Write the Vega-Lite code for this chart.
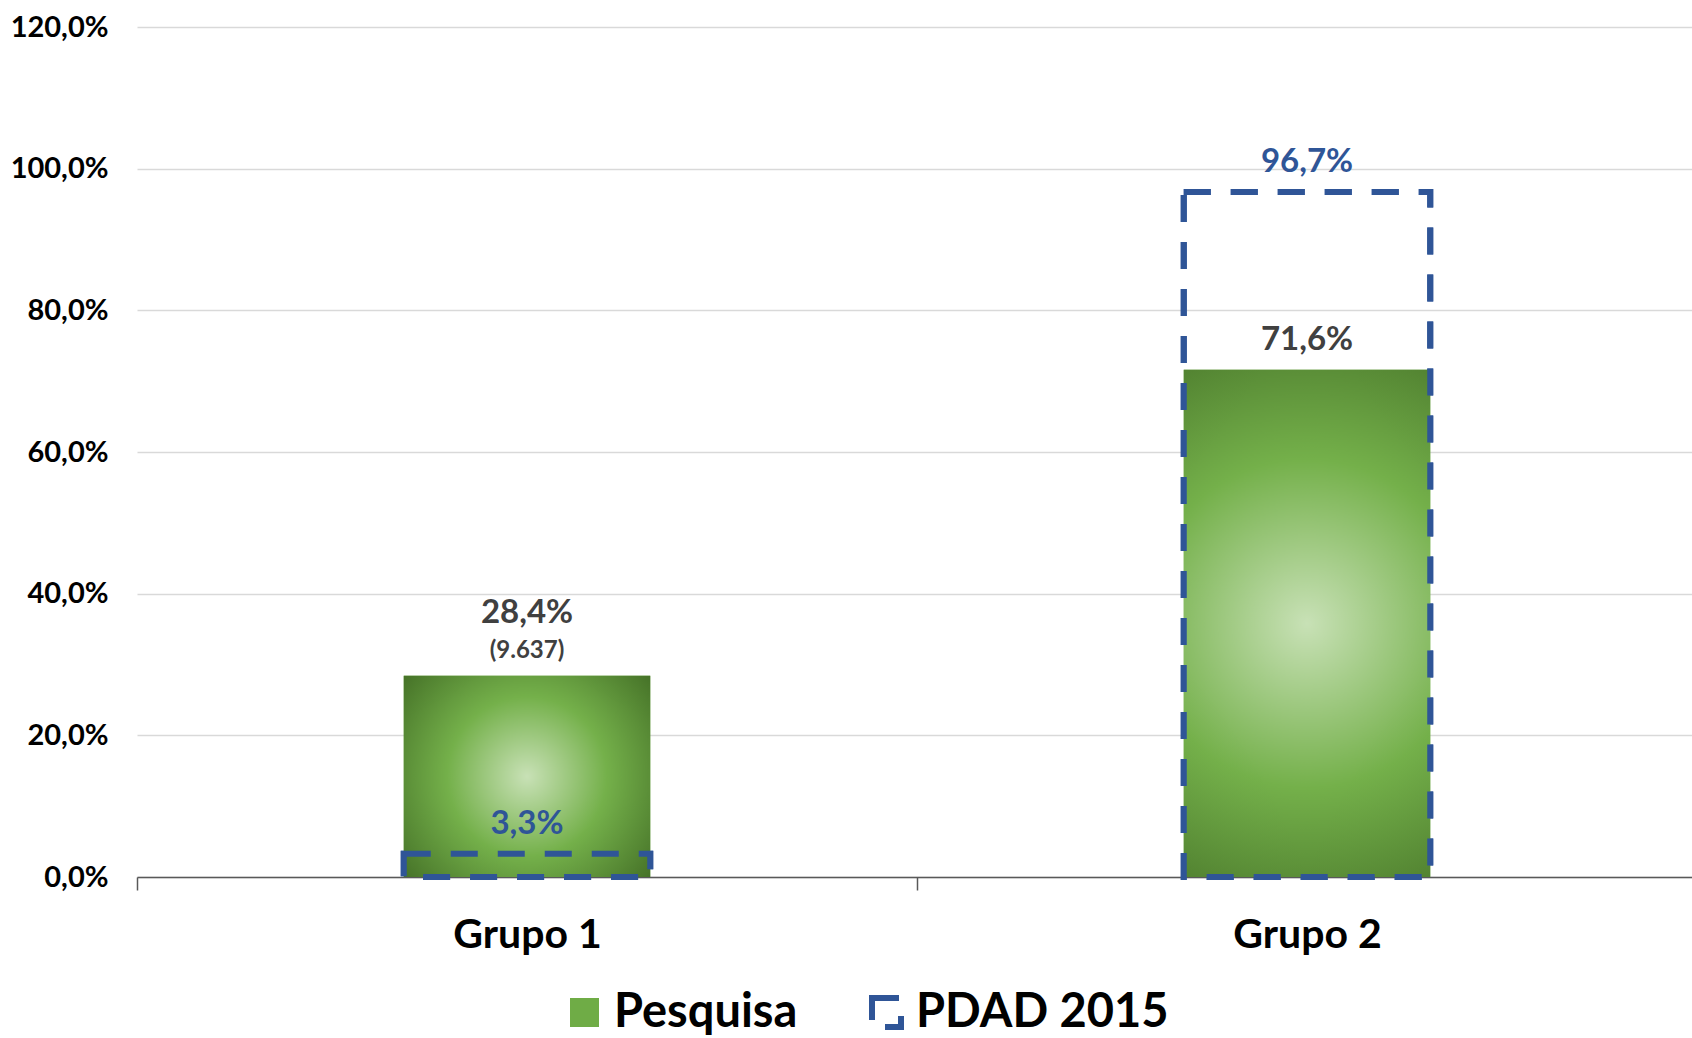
{
  "$schema": "https://vega.github.io/schema/vega-lite/v6.json",
  "width": 1560,
  "height": 850,
  "autosize": {"type": "none"},
  "padding": {"left": 137, "top": 27, "right": 0, "bottom": 161},
  "background": "white",
  "config": {
    "view": {"stroke": null},
    "font": "Lato",
    "text": {"font": "Lato", "fontWeight": "bold"},
    "legend": {
      "title": null,
      "orient": "none",
      "legendX": 424,
      "legendY": 962,
      "direction": "horizontal",
      "padding": 0,
      "symbolType": "square",
      "symbolSize": 841,
      "symbolStrokeWidth": 6,
      "labelFont": "Lato",
      "labelFontWeight": "bold",
      "labelFontSize": 47,
      "labelColor": "#000000",
      "labelOffset": 6,
      "columnPadding": 62,
      "labelLimit": 400
    }
  },
  "data": {
    "values": [
      {"grupo": "Grupo 1", "serie": "Pesquisa", "valor": 28.4, "rotulo": "28,4%", "n": "(9.637)"},
      {"grupo": "Grupo 2", "serie": "Pesquisa", "valor": 71.6, "rotulo": "71,6%", "n": ""},
      {"grupo": "Grupo 1", "serie": "PDAD 2015", "valor": 3.3, "rotulo": "3,3%", "n": ""},
      {"grupo": "Grupo 2", "serie": "PDAD 2015", "valor": 96.7, "rotulo": "96,7%", "n": ""}
    ]
  },
  "encoding": {
    "x": {
      "field": "grupo",
      "type": "nominal",
      "sort": ["Grupo 1", "Grupo 2"],
      "scale": {"paddingInner": 0.684, "paddingOuter": 0.342},
      "axis": {
        "title": null,
        "labelAngle": 0,
        "labelFont": "Lato",
        "labelFontWeight": "bold",
        "labelFontSize": 41,
        "labelColor": "#000000",
        "labelPadding": 25,
        "domainColor": "#595959",
        "domainWidth": 1.5,
        "tickColor": "#595959",
        "tickWidth": 1.5,
        "tickSize": 13,
        "bandPosition": 0.5,
        "tickOffset": -390,
        "labelOffset": 390,
        "grid": false
      }
    },
    "y": {
      "field": "valor",
      "type": "quantitative",
      "stack": null,
      "scale": {"domain": [0, 120], "nice": false},
      "axis": {
        "title": null,
        "values": [0, 20, 40, 60, 80, 100, 120],
        "labelExpr": "replace(format(datum.value, '.1f'), '.', ',') + '%'",
        "labelFont": "Lato",
        "labelFontWeight": "bold",
        "labelFontSize": 29,
        "labelColor": "#000000",
        "labelPadding": 29,
        "ticks": false,
        "domain": false,
        "grid": true,
        "gridColor": "#d9d9d9",
        "gridWidth": 1.5
      }
    }
  },
  "layer": [
    {
      "mark": {"type": "bar", "strokeWidth": 6},
      "encoding": {
        "fill": {
          "field": "serie",
          "type": "nominal",
          "scale": {"domain": ["Pesquisa", "PDAD 2015"], "range": ["#6fac46", "transparent"]}
        },
        "stroke": {
          "field": "serie",
          "type": "nominal",
          "scale": {"domain": ["Pesquisa", "PDAD 2015"], "range": ["transparent", "#2F5597"]}
        },
        "strokeDash": {
          "field": "serie",
          "type": "nominal",
          "scale": {"domain": ["Pesquisa", "PDAD 2015"], "range": [[1, 0], [27, 20]]}
        }
      }
    },
    {
      "transform": [{"filter": "datum.serie == 'Pesquisa'"}],
      "mark": {
        "type": "bar",
        "fill": {
          "gradient": "radial",
          "x1": 0.5, "y1": 0.5, "r1": 0,
          "x2": 0.5, "y2": 0.5, "r2": 0.72,
          "stops": [
            {"offset": 0, "color": "#c8e1b6"},
            {"offset": 0.45, "color": "#74b04a"},
            {"offset": 1, "color": "#3b6420"}
          ]
        }
      }
    },
    {
      "transform": [{"filter": "datum.serie == 'PDAD 2015'"}],
      "mark": {"type": "bar", "fill": "transparent", "stroke": "#2F5597", "strokeWidth": 6, "strokeDash": [27, 20]}
    },
    {
      "transform": [{"filter": "datum.serie == 'Pesquisa' && datum.n == ''"}],
      "mark": {"type": "text", "baseline": "middle", "dy": -30, "fontSize": 33, "color": "#404040"},
      "encoding": {"text": {"field": "rotulo"}}
    },
    {
      "transform": [{"filter": "datum.serie == 'Pesquisa' && datum.n != ''"}],
      "mark": {"type": "text", "baseline": "middle", "dy": -63, "fontSize": 33, "color": "#404040"},
      "encoding": {"text": {"field": "rotulo"}}
    },
    {
      "transform": [{"filter": "datum.serie == 'Pesquisa' && datum.n != ''"}],
      "mark": {"type": "text", "baseline": "middle", "dy": -25, "fontSize": 24, "color": "#404040"},
      "encoding": {"text": {"field": "n"}}
    },
    {
      "transform": [{"filter": "datum.serie == 'PDAD 2015'"}],
      "mark": {"type": "text", "baseline": "middle", "dy": -30, "fontSize": 33, "color": "#2F5597"},
      "encoding": {"text": {"field": "rotulo"}}
    }
  ]
}
